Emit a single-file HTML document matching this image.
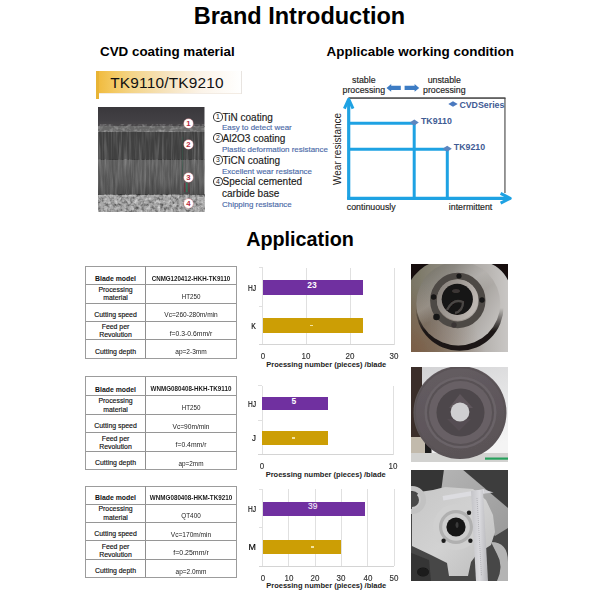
<!DOCTYPE html>
<html><head><meta charset="utf-8"><style>
html,body{margin:0;padding:0;background:#fff;width:600px;height:600px;overflow:hidden}
body{position:relative;font-family:'Liberation Sans', sans-serif}
.t{position:absolute;white-space:nowrap;font-family:'Liberation Sans', sans-serif}
</style></head><body>
<div class="t" style="left:149.50px;width:300px;text-align:center;top:5.33px;font-size:23.5px;line-height:23.5px;font-weight:bold;color:#000;">Brand Introduction</div>
<div class="t" style="left:100.00px;top:44.91px;font-size:13.4px;line-height:13.4px;font-weight:bold;color:#000;">CVD coating material</div>
<div class="t" style="left:326.60px;top:45.07px;font-size:13.45px;line-height:13.45px;font-weight:bold;color:#000;">Applicable working condition</div>
<div style="position:absolute;left:96px;top:70.5px;width:146px;height:23.8px;background:linear-gradient(90deg,#f0b93a 0px,#f3c659 14px,#f4d487 35px,#f6e3bd 70px,#fbf3e8 105px,#fefcf9 135px,#fff 146px);box-shadow:inset -1px 0 0 #e8e4e0, inset 0 -1px 0 #f3ece4;"></div>
<div style="position:absolute;left:96px;top:70.5px;width:3px;height:28px;background:#e8b435;"></div>
<div class="t" style="left:110.20px;top:75.31px;font-size:15.4px;line-height:15.4px;font-weight:normal;color:#111;letter-spacing:0.2px;">TK9110/TK9210</div>
<svg style="position:absolute;left:98px;top:107px" width="106.8" height="104.7" viewBox="0 0 106.8 104.7" preserveAspectRatio="none">
<defs>
<filter id="vs" x="0" y="0" width="100%" height="100%"><feTurbulence type="fractalNoise" baseFrequency="0.45 0.03" numOctaves="2" seed="3"/><feColorMatrix type="matrix" values="0 0 0 0 1  0 0 0 0 1  0 0 0 0 1  1.3 0 0 0 -0.55"/></filter>
<filter id="vs2" x="0" y="0" width="100%" height="100%"><feTurbulence type="fractalNoise" baseFrequency="0.5 0.05" numOctaves="2" seed="7"/><feColorMatrix type="matrix" values="0 0 0 0 0  0 0 0 0 0  0 0 0 0 0  1.2 0 0 0 -0.45"/></filter>
<filter id="sp" x="0" y="0" width="100%" height="100%"><feTurbulence type="fractalNoise" baseFrequency="0.32" numOctaves="2" seed="5"/><feColorMatrix type="matrix" values="0 0 0 0 0  0 0 0 0 0  0 0 0 0 0  1.8 0 0 0 -0.75"/><feGaussianBlur stdDeviation="0.4"/></filter><filter id="sp2" x="0" y="0" width="100%" height="100%"><feTurbulence type="fractalNoise" baseFrequency="0.3" numOctaves="2" seed="9"/><feColorMatrix type="matrix" values="0 0 0 0 1  0 0 0 0 1  0 0 0 0 1  1.8 0 0 0 -0.8"/><feGaussianBlur stdDeviation="0.4"/></filter>
<filter id="bump" x="0" y="0" width="100%" height="100%"><feTurbulence type="fractalNoise" baseFrequency="0.25 0.3" numOctaves="2" seed="11"/><feColorMatrix type="matrix" values="0 0 0 0 1  0 0 0 0 1  0 0 0 0 1  1.2 0 0 0 -0.5"/></filter>
<linearGradient id="semtop" x1="0" y1="0" x2="0" y2="1"><stop offset="0" stop-color="#3a383c"/><stop offset="0.7" stop-color="#424044"/><stop offset="1" stop-color="#4c4a4c"/></linearGradient>
<linearGradient id="seml3" x1="0" y1="0" x2="0" y2="1"><stop offset="0" stop-color="#666"/><stop offset="0.6" stop-color="#5e5e5e"/><stop offset="1" stop-color="#4e4e4e"/></linearGradient>
</defs>
<rect x="0" y="0" width="106.5" height="20" fill="url(#semtop)"/>
<rect x="0" y="19" width="106.5" height="6" fill="#686868"/>
<rect x="0" y="18" width="106.5" height="8" filter="url(#bump)" opacity="0.6"/>
<rect x="0" y="25" width="106.5" height="28" fill="#404040"/>
<rect x="0" y="25" width="106.5" height="28" filter="url(#vs)" opacity="0.35"/>
<rect x="0" y="53" width="106.5" height="35" fill="url(#seml3)"/>
<rect x="0" y="53" width="106.5" height="35" filter="url(#vs)" opacity="0.3"/>
<rect x="0" y="53" width="106.5" height="35" filter="url(#vs2)" opacity="0.35"/>
<rect x="0" y="88" width="106.8" height="17" fill="#a8a8a8"/>
<rect x="0" y="88" width="106.8" height="17" filter="url(#sp)" opacity="0.65"/>
<rect x="0" y="88" width="106.8" height="17" filter="url(#sp2)" opacity="0.65"/>
<rect x="88" y="76" width="1.6" height="9" fill="#2e7a5a" opacity="0.8"/><rect x="86" y="76" width="1.2" height="9" fill="#7a2a3a" opacity="0.7"/><rect x="90.3" y="76" width="1.2" height="9" fill="#7a2a3a" opacity="0.7"/><rect x="84" y="30" width="1" height="40" fill="#2e6a50" opacity="0.35"/>
</svg>
<div style="position:absolute;left:183.8px;top:119.1px;width:9px;height:9px;border-radius:50%;background:#fff;color:#b8283a;font:bold 7.8px/9px 'Liberation Sans', sans-serif;text-align:center;box-shadow:0 0 0 0.5px #e8a0a8">1</div>
<div style="position:absolute;left:183.8px;top:140.2px;width:9px;height:9px;border-radius:50%;background:#fff;color:#b8283a;font:bold 7.8px/9px 'Liberation Sans', sans-serif;text-align:center;box-shadow:0 0 0 0.5px #e8a0a8">2</div>
<div style="position:absolute;left:183.8px;top:172.6px;width:9px;height:9px;border-radius:50%;background:#fff;color:#b8283a;font:bold 7.8px/9px 'Liberation Sans', sans-serif;text-align:center;box-shadow:0 0 0 0.5px #e8a0a8">3</div>
<div style="position:absolute;left:183.8px;top:199.1px;width:9px;height:9px;border-radius:50%;background:#fff;color:#b8283a;font:bold 7.8px/9px 'Liberation Sans', sans-serif;text-align:center;box-shadow:0 0 0 0.5px #e8a0a8">4</div>
<div style="position:absolute;box-sizing:border-box;left:213.2px;top:112.3px;width:9.4px;height:9.6px;border:0.85px solid #333;border-radius:50%;font:6.8px/7.9px 'Liberation Sans', sans-serif;text-align:center;color:#222;font-weight:normal">1</div>
<div class="t" style="left:222.60px;top:112.80px;font-size:10.0px;line-height:10.0px;font-weight:normal;color:#1a1a1a;-webkit-text-stroke:0.15px #1a1a1a;">TiN coating</div>
<div style="position:absolute;box-sizing:border-box;left:213.2px;top:133.3px;width:9.4px;height:9.6px;border:0.85px solid #333;border-radius:50%;font:6.8px/7.9px 'Liberation Sans', sans-serif;text-align:center;color:#222;font-weight:normal">2</div>
<div class="t" style="left:222.60px;top:133.80px;font-size:10.0px;line-height:10.0px;font-weight:normal;color:#1a1a1a;-webkit-text-stroke:0.15px #1a1a1a;">Al2O3 coating</div>
<div style="position:absolute;box-sizing:border-box;left:213.2px;top:155.1px;width:9.4px;height:9.6px;border:0.85px solid #333;border-radius:50%;font:6.8px/7.9px 'Liberation Sans', sans-serif;text-align:center;color:#222;font-weight:normal">3</div>
<div class="t" style="left:222.60px;top:155.60px;font-size:10.0px;line-height:10.0px;font-weight:normal;color:#1a1a1a;-webkit-text-stroke:0.15px #1a1a1a;">TiCN coating</div>
<div style="position:absolute;box-sizing:border-box;left:213.2px;top:176.8px;width:9.4px;height:9.6px;border:0.85px solid #333;border-radius:50%;font:6.8px/7.9px 'Liberation Sans', sans-serif;text-align:center;color:#222;font-weight:normal">4</div>
<div class="t" style="left:222.60px;top:177.30px;font-size:10.0px;line-height:10.0px;font-weight:normal;color:#1a1a1a;-webkit-text-stroke:0.15px #1a1a1a;">Special cemented</div>
<div class="t" style="left:222.00px;top:188.70px;font-size:10.0px;line-height:10.0px;font-weight:normal;color:#1a1a1a;-webkit-text-stroke:0.15px #1a1a1a;">carbide base</div>
<div class="t" style="left:222.00px;top:124.14px;font-size:7.95px;line-height:7.95px;font-weight:normal;color:#4a6aa8;-webkit-text-stroke:0.15px #4a6aa8;">Easy to detect wear</div>
<div class="t" style="left:222.00px;top:145.74px;font-size:7.95px;line-height:7.95px;font-weight:normal;color:#4a6aa8;-webkit-text-stroke:0.15px #4a6aa8;">Plastic deformation resistance</div>
<div class="t" style="left:222.00px;top:167.64px;font-size:7.95px;line-height:7.95px;font-weight:normal;color:#4a6aa8;-webkit-text-stroke:0.15px #4a6aa8;">Excellent wear resistance</div>
<div class="t" style="left:222.00px;top:200.64px;font-size:7.95px;line-height:7.95px;font-weight:normal;color:#4a6aa8;-webkit-text-stroke:0.15px #4a6aa8;">Chipping resistance</div>
<div class="t" style="left:213.80px;width:300px;text-align:center;top:75.82px;font-size:8.8px;line-height:8.8px;font-weight:normal;color:#222;-webkit-text-stroke:0.15px #222;">stable</div>
<div class="t" style="left:213.80px;width:300px;text-align:center;top:85.82px;font-size:8.8px;line-height:8.8px;font-weight:normal;color:#222;-webkit-text-stroke:0.15px #222;">processing</div>
<div class="t" style="left:294.30px;width:300px;text-align:center;top:75.82px;font-size:8.8px;line-height:8.8px;font-weight:normal;color:#222;-webkit-text-stroke:0.15px #222;">unstable</div>
<div class="t" style="left:294.30px;width:300px;text-align:center;top:85.82px;font-size:8.8px;line-height:8.8px;font-weight:normal;color:#222;-webkit-text-stroke:0.15px #222;">processing</div>
<svg style="position:absolute;left:0;top:0" width="600" height="600">
<polygon points="386.5,87.9 391.2,84 391.2,85.8 400.8,85.8 400.8,90.1 391.2,90.1 391.2,91.8" fill="#3d7cc4"/>
<polygon points="419.2,87.9 414.6,84 414.6,85.8 404.6,85.8 404.6,90.1 414.6,90.1 414.6,91.8" fill="#3d7cc4"/>
<rect x="348.5" y="97.4" width="157" height="1.3" fill="#222"/>
<rect x="504.4" y="98" width="1.1" height="95" fill="#444"/>
<line x1="348.7" y1="199" x2="348.7" y2="100" stroke="#1ea2e3" stroke-width="3.2"/>
<polyline points="344.4,108.6 348.7,99.2 353,108.6" fill="none" stroke="#1ea2e3" stroke-width="3" stroke-linejoin="round"/>
<line x1="347.1" y1="198.3" x2="509" y2="198.3" stroke="#1ea2e3" stroke-width="3.2"/>
<polyline points="500.6,193.4 510.2,198.3 500.6,203.2" fill="none" stroke="#1ea2e3" stroke-width="3" stroke-linejoin="round"/>
<line x1="348.7" y1="123.3" x2="414.2" y2="123.3" stroke="#1ea2e3" stroke-width="3"/>
<line x1="414.2" y1="123.3" x2="414.2" y2="198" stroke="#1ea2e3" stroke-width="3"/>
<line x1="348.7" y1="149.2" x2="447.3" y2="149.2" stroke="#1ea2e3" stroke-width="3"/>
<line x1="447.3" y1="149.2" x2="447.3" y2="198" stroke="#1ea2e3" stroke-width="3"/>
<polygon points="409.8,122.6 414.3,119.6 418.8,122.6 414.3,125.6" fill="#5b86c0"/>
<polygon points="442.6,148.8 447.2,145.8 451.8,148.8 447.2,151.8" fill="#5b86c0"/>
<polygon points="448.3,104 453,101.2 457.7,104 453,106.8" fill="#4a79bf"/>
</svg>
<div class="t" style="left:421.00px;top:116.92px;font-size:8.8px;line-height:8.8px;font-weight:bold;color:#3f5b94;">TK9110</div>
<div class="t" style="left:453.80px;top:142.52px;font-size:8.8px;line-height:8.8px;font-weight:bold;color:#3f5b94;">TK9210</div>
<div class="t" style="left:459.40px;top:100.82px;font-size:8.8px;line-height:8.8px;font-weight:bold;color:#3f5b94;">CVDSeries</div>
<div class="t" style="left:346.80px;top:202.72px;font-size:8.8px;line-height:8.8px;font-weight:normal;color:#222;-webkit-text-stroke:0.15px #222;">continuously</div>
<div class="t" style="left:448.80px;top:203.02px;font-size:8.8px;line-height:8.8px;font-weight:normal;color:#222;-webkit-text-stroke:0.15px #222;">intermittent</div>
<div class="t" style="left:332.70px;top:185.2px;font-size:10.0px;line-height:10.0px;color:#222;transform-origin:0 0;transform:rotate(-90deg);white-space:nowrap">Wear resistance</div>
<div class="t" style="left:150.00px;width:300px;text-align:center;top:230.47px;font-size:19.8px;line-height:19.8px;font-weight:bold;color:#000;">Application</div>
<div style="position:absolute;box-sizing:border-box;left:85.3px;top:265.70px;width:151.6px;height:93.20px;border:1.2px solid #9c9c9c"></div>
<div style="position:absolute;left:144.5px;top:266px;width:1px;height:92.30000000000001px;background:#8e8e8e"></div>
<div style="position:absolute;left:86px;top:283.9px;width:150.3px;height:1px;background:#969696"></div>
<div style="position:absolute;left:86px;top:302.5px;width:150.3px;height:1px;background:#969696"></div>
<div style="position:absolute;left:86px;top:320.5px;width:150.3px;height:1px;background:#969696"></div>
<div style="position:absolute;left:86px;top:338.8px;width:150.3px;height:1px;background:#969696"></div>
<div class="t" style="left:-34.50px;width:300px;text-align:center;top:275.63px;font-size:6.9px;line-height:6.9px;font-weight:bold;color:#111;">Blade model</div>
<div class="t" style="left:-34.50px;width:300px;text-align:center;top:286.73px;font-size:6.9px;line-height:6.9px;font-weight:normal;color:#111;-webkit-text-stroke:0.15px #111;">Processing</div>
<div class="t" style="left:-34.50px;width:300px;text-align:center;top:295.44px;font-size:6.9px;line-height:6.9px;font-weight:normal;color:#111;-webkit-text-stroke:0.15px #111;">material</div>
<div class="t" style="left:-34.50px;width:300px;text-align:center;top:311.74px;font-size:6.9px;line-height:6.9px;font-weight:normal;color:#111;-webkit-text-stroke:0.15px #111;">Cutting speed</div>
<div class="t" style="left:-34.50px;width:300px;text-align:center;top:324.44px;font-size:6.9px;line-height:6.9px;font-weight:normal;color:#111;-webkit-text-stroke:0.15px #111;">Feed per</div>
<div class="t" style="left:-34.50px;width:300px;text-align:center;top:332.33px;font-size:6.9px;line-height:6.9px;font-weight:normal;color:#111;-webkit-text-stroke:0.15px #111;">Revolution</div>
<div class="t" style="left:-34.50px;width:300px;text-align:center;top:349.13px;font-size:6.9px;line-height:6.9px;font-weight:normal;color:#111;-webkit-text-stroke:0.15px #111;">Cutting depth</div>
<div class="t" style="left:40.65px;width:300px;text-align:center;top:274.85px;font-size:7.0px;line-height:7.0px;font-weight:bold;color:#1a1a1a;transform:scaleX(0.882);transform-origin:150px 0;">CNMG120412-HKH-TK9110</div>
<div class="t" style="left:40.65px;width:300px;text-align:center;top:292.85px;font-size:7.0px;line-height:7.0px;font-weight:normal;color:#222;transform:scaleX(0.890);transform-origin:150px 0;">HT250</div>
<div class="t" style="left:40.65px;width:300px;text-align:center;top:311.35px;font-size:7.0px;line-height:7.0px;font-weight:normal;color:#222;transform:scaleX(0.938);transform-origin:150px 0;">Vc=260-280m/min</div>
<div class="t" style="left:40.65px;width:300px;text-align:center;top:329.65px;font-size:7.0px;line-height:7.0px;font-weight:normal;color:#222;transform:scaleX(0.973);transform-origin:150px 0;">f=0.3-0.6mm/r</div>
<div class="t" style="left:40.65px;width:300px;text-align:center;top:347.95px;font-size:7.0px;line-height:7.0px;font-weight:normal;color:#222;transform:scaleX(0.936);transform-origin:150px 0;">ap=2-3mm</div>
<div style="position:absolute;box-sizing:border-box;left:85.3px;top:376.40px;width:151.6px;height:93.20px;border:1.2px solid #9c9c9c"></div>
<div style="position:absolute;left:144.5px;top:376.7px;width:1px;height:92.30000000000001px;background:#8e8e8e"></div>
<div style="position:absolute;left:86px;top:394.8px;width:150.3px;height:1px;background:#969696"></div>
<div style="position:absolute;left:86px;top:413.7px;width:150.3px;height:1px;background:#969696"></div>
<div style="position:absolute;left:86px;top:431.9px;width:150.3px;height:1px;background:#969696"></div>
<div style="position:absolute;left:86px;top:450.5px;width:150.3px;height:1px;background:#969696"></div>
<div class="t" style="left:-34.50px;width:300px;text-align:center;top:386.54px;font-size:6.9px;line-height:6.9px;font-weight:bold;color:#111;">Blade model</div>
<div class="t" style="left:-34.50px;width:300px;text-align:center;top:397.63px;font-size:6.9px;line-height:6.9px;font-weight:normal;color:#111;-webkit-text-stroke:0.15px #111;">Processing</div>
<div class="t" style="left:-34.50px;width:300px;text-align:center;top:406.63px;font-size:6.9px;line-height:6.9px;font-weight:normal;color:#111;-webkit-text-stroke:0.15px #111;">material</div>
<div class="t" style="left:-34.50px;width:300px;text-align:center;top:423.13px;font-size:6.9px;line-height:6.9px;font-weight:normal;color:#111;-webkit-text-stroke:0.15px #111;">Cutting speed</div>
<div class="t" style="left:-34.50px;width:300px;text-align:center;top:435.83px;font-size:6.9px;line-height:6.9px;font-weight:normal;color:#111;-webkit-text-stroke:0.15px #111;">Feed per</div>
<div class="t" style="left:-34.50px;width:300px;text-align:center;top:444.03px;font-size:6.9px;line-height:6.9px;font-weight:normal;color:#111;-webkit-text-stroke:0.15px #111;">Revolution</div>
<div class="t" style="left:-34.50px;width:300px;text-align:center;top:459.83px;font-size:6.9px;line-height:6.9px;font-weight:normal;color:#111;-webkit-text-stroke:0.15px #111;">Cutting depth</div>
<div class="t" style="left:40.65px;width:300px;text-align:center;top:385.35px;font-size:7.0px;line-height:7.0px;font-weight:bold;color:#1a1a1a;transform:scaleX(0.891);transform-origin:150px 0;">WNMG080408-HKH-TK9110</div>
<div class="t" style="left:40.65px;width:300px;text-align:center;top:403.75px;font-size:7.0px;line-height:7.0px;font-weight:normal;color:#222;transform:scaleX(0.890);transform-origin:150px 0;">HT250</div>
<div class="t" style="left:40.65px;width:300px;text-align:center;top:422.65px;font-size:7.0px;line-height:7.0px;font-weight:normal;color:#222;transform:scaleX(0.946);transform-origin:150px 0;">Vc=90m/min</div>
<div class="t" style="left:40.65px;width:300px;text-align:center;top:441.05px;font-size:7.0px;line-height:7.0px;font-weight:normal;color:#222;transform:scaleX(0.974);transform-origin:150px 0;">f=0.4mm/r</div>
<div class="t" style="left:40.65px;width:300px;text-align:center;top:459.75px;font-size:7.0px;line-height:7.0px;font-weight:normal;color:#222;transform:scaleX(0.911);transform-origin:150px 0;">ap=2mm</div>
<div style="position:absolute;box-sizing:border-box;left:85.3px;top:485.50px;width:151.6px;height:92.40px;border:1.2px solid #9c9c9c"></div>
<div style="position:absolute;left:144.5px;top:485.8px;width:1px;height:91.49999999999994px;background:#8e8e8e"></div>
<div style="position:absolute;left:86px;top:503.5px;width:150.3px;height:1px;background:#969696"></div>
<div style="position:absolute;left:86px;top:521.8px;width:150.3px;height:1px;background:#969696"></div>
<div style="position:absolute;left:86px;top:539.9px;width:150.3px;height:1px;background:#969696"></div>
<div style="position:absolute;left:86px;top:558.8px;width:150.3px;height:1px;background:#969696"></div>
<div class="t" style="left:-34.50px;width:300px;text-align:center;top:495.24px;font-size:6.9px;line-height:6.9px;font-weight:bold;color:#111;">Blade model</div>
<div class="t" style="left:-34.50px;width:300px;text-align:center;top:506.34px;font-size:6.9px;line-height:6.9px;font-weight:normal;color:#111;-webkit-text-stroke:0.15px #111;">Processing</div>
<div class="t" style="left:-34.50px;width:300px;text-align:center;top:514.73px;font-size:6.9px;line-height:6.9px;font-weight:normal;color:#111;-webkit-text-stroke:0.15px #111;">material</div>
<div class="t" style="left:-34.50px;width:300px;text-align:center;top:531.13px;font-size:6.9px;line-height:6.9px;font-weight:normal;color:#111;-webkit-text-stroke:0.15px #111;">Cutting speed</div>
<div class="t" style="left:-34.50px;width:300px;text-align:center;top:543.83px;font-size:6.9px;line-height:6.9px;font-weight:normal;color:#111;-webkit-text-stroke:0.15px #111;">Feed per</div>
<div class="t" style="left:-34.50px;width:300px;text-align:center;top:552.33px;font-size:6.9px;line-height:6.9px;font-weight:normal;color:#111;-webkit-text-stroke:0.15px #111;">Revolution</div>
<div class="t" style="left:-34.50px;width:300px;text-align:center;top:568.13px;font-size:6.9px;line-height:6.9px;font-weight:normal;color:#111;-webkit-text-stroke:0.15px #111;">Cutting depth</div>
<div class="t" style="left:40.65px;width:300px;text-align:center;top:493.65px;font-size:7.0px;line-height:7.0px;font-weight:bold;color:#1a1a1a;transform:scaleX(0.897);transform-origin:150px 0;">WNMG080408-HKM-TK9210</div>
<div class="t" style="left:40.65px;width:300px;text-align:center;top:512.35px;font-size:7.0px;line-height:7.0px;font-weight:normal;color:#222;transform:scaleX(0.906);transform-origin:150px 0;">QT400</div>
<div class="t" style="left:40.65px;width:300px;text-align:center;top:530.65px;font-size:7.0px;line-height:7.0px;font-weight:normal;color:#222;transform:scaleX(0.937);transform-origin:150px 0;">Vc=170m/min</div>
<div class="t" style="left:40.65px;width:300px;text-align:center;top:549.15px;font-size:7.0px;line-height:7.0px;font-weight:normal;color:#222;transform:scaleX(0.997);transform-origin:150px 0;">f=0.25mm/r</div>
<div class="t" style="left:40.65px;width:300px;text-align:center;top:567.55px;font-size:7.0px;line-height:7.0px;font-weight:normal;color:#222;transform:scaleX(0.929);transform-origin:150px 0;">ap=2.0mm</div>
<div style="position:absolute;left:262.00px;top:267.5px;width:1px;height:77.0px;background:#e0e0e0"></div>
<div class="t" style="left:112.50px;width:300px;text-align:center;top:352.16px;font-size:8.4px;line-height:8.4px;font-weight:normal;color:#333;transform:scaleX(0.950);transform-origin:150px 0;-webkit-text-stroke:0.15px #333;">0</div>
<div style="position:absolute;left:305.85px;top:267.5px;width:1px;height:77.0px;background:#e0e0e0"></div>
<div class="t" style="left:156.35px;width:300px;text-align:center;top:352.16px;font-size:8.4px;line-height:8.4px;font-weight:normal;color:#333;transform:scaleX(0.950);transform-origin:150px 0;-webkit-text-stroke:0.15px #333;">10</div>
<div style="position:absolute;left:349.70px;top:267.5px;width:1px;height:77.0px;background:#e0e0e0"></div>
<div class="t" style="left:200.20px;width:300px;text-align:center;top:352.16px;font-size:8.4px;line-height:8.4px;font-weight:normal;color:#333;transform:scaleX(0.950);transform-origin:150px 0;-webkit-text-stroke:0.15px #333;">20</div>
<div style="position:absolute;left:393.55px;top:267.5px;width:1px;height:77.0px;background:#e0e0e0"></div>
<div class="t" style="left:244.05px;width:300px;text-align:center;top:352.16px;font-size:8.4px;line-height:8.4px;font-weight:normal;color:#333;transform:scaleX(0.950);transform-origin:150px 0;-webkit-text-stroke:0.15px #333;">30</div>
<div style="position:absolute;left:258.50px;top:344.0px;width:135.55px;height:1px;background:#d4d4d4"></div>
<div style="position:absolute;left:258.50px;top:267.00px;width:4px;height:1px;background:#e0e0e0"></div>
<div style="position:absolute;left:258.50px;top:306.00px;width:4px;height:1px;background:#e0e0e0"></div>
<div style="position:absolute;left:262.50px;top:280px;width:100.86px;height:14.8px;background:#7030a0"></div>
<div class="t" style="left:-43.70px;width:300px;text-align:right;top:283.61px;font-size:8.7px;line-height:8.7px;font-weight:normal;color:#000;transform:scaleX(0.760);transform-origin:300px 0;-webkit-text-stroke:0.15px #000;">HJ</div>
<div class="t" style="left:161.93px;width:300px;text-align:center;top:281.07px;font-size:8.5px;line-height:8.5px;font-weight:bold;color:#fff;">23</div>
<div style="position:absolute;left:262.50px;top:318.2px;width:100.86px;height:14.6px;background:#cc9e05"></div>
<div class="t" style="left:-43.70px;width:300px;text-align:right;top:321.71px;font-size:8.7px;line-height:8.7px;font-weight:normal;color:#000;transform:scaleX(0.800);transform-origin:300px 0;-webkit-text-stroke:0.15px #000;">K</div>
<div style="position:absolute;left:310.43px;top:324.50px;width:3px;height:1.6px;background:#f3e3a0"></div>
<div class="t" style="left:176.27px;width:300px;text-align:center;top:360.62px;font-size:7.5px;line-height:7.5px;font-weight:bold;color:#222;">Proessing number (pieces) /blade</div>
<div style="position:absolute;left:261.70px;top:385.8px;width:1px;height:68.89999999999998px;background:#e0e0e0"></div>
<div class="t" style="left:112.20px;width:300px;text-align:center;top:462.36px;font-size:8.4px;line-height:8.4px;font-weight:normal;color:#333;transform:scaleX(0.950);transform-origin:150px 0;-webkit-text-stroke:0.15px #333;">0</div>
<div style="position:absolute;left:392.70px;top:385.8px;width:1px;height:68.89999999999998px;background:#e0e0e0"></div>
<div class="t" style="left:243.20px;width:300px;text-align:center;top:462.36px;font-size:8.4px;line-height:8.4px;font-weight:normal;color:#333;transform:scaleX(0.950);transform-origin:150px 0;-webkit-text-stroke:0.15px #333;">10</div>
<div style="position:absolute;left:258.20px;top:454.2px;width:135.00px;height:1px;background:#d4d4d4"></div>
<div style="position:absolute;left:258.20px;top:385.30px;width:4px;height:1px;background:#e0e0e0"></div>
<div style="position:absolute;left:258.20px;top:420.30px;width:4px;height:1px;background:#e0e0e0"></div>
<div style="position:absolute;left:262.20px;top:396.8px;width:65.50px;height:13.4px;background:#7030a0"></div>
<div class="t" style="left:-44.00px;width:300px;text-align:right;top:399.71px;font-size:8.7px;line-height:8.7px;font-weight:normal;color:#000;transform:scaleX(0.760);transform-origin:300px 0;-webkit-text-stroke:0.15px #000;">HJ</div>
<div class="t" style="left:143.95px;width:300px;text-align:center;top:397.17px;font-size:8.5px;line-height:8.5px;font-weight:bold;color:#fff;">5</div>
<div style="position:absolute;left:262.20px;top:431.4px;width:65.50px;height:13.4px;background:#cc9e05"></div>
<div class="t" style="left:-44.00px;width:300px;text-align:right;top:434.31px;font-size:8.7px;line-height:8.7px;font-weight:normal;color:#000;transform:scaleX(0.900);transform-origin:300px 0;-webkit-text-stroke:0.15px #000;">J</div>
<div style="position:absolute;left:292.45px;top:437.10px;width:3px;height:1.6px;background:#f3e3a0"></div>
<div class="t" style="left:175.70px;width:300px;text-align:center;top:470.82px;font-size:7.5px;line-height:7.5px;font-weight:bold;color:#222;">Proessing number (pieces) /blade</div>
<div style="position:absolute;left:262.00px;top:489.2px;width:1px;height:77.09999999999997px;background:#e0e0e0"></div>
<div class="t" style="left:112.50px;width:300px;text-align:center;top:573.96px;font-size:8.4px;line-height:8.4px;font-weight:normal;color:#333;transform:scaleX(0.950);transform-origin:150px 0;-webkit-text-stroke:0.15px #333;">0</div>
<div style="position:absolute;left:288.30px;top:489.2px;width:1px;height:77.09999999999997px;background:#e0e0e0"></div>
<div class="t" style="left:138.80px;width:300px;text-align:center;top:573.96px;font-size:8.4px;line-height:8.4px;font-weight:normal;color:#333;transform:scaleX(0.950);transform-origin:150px 0;-webkit-text-stroke:0.15px #333;">10</div>
<div style="position:absolute;left:314.60px;top:489.2px;width:1px;height:77.09999999999997px;background:#e0e0e0"></div>
<div class="t" style="left:165.10px;width:300px;text-align:center;top:573.96px;font-size:8.4px;line-height:8.4px;font-weight:normal;color:#333;transform:scaleX(0.950);transform-origin:150px 0;-webkit-text-stroke:0.15px #333;">20</div>
<div style="position:absolute;left:340.90px;top:489.2px;width:1px;height:77.09999999999997px;background:#e0e0e0"></div>
<div class="t" style="left:191.40px;width:300px;text-align:center;top:573.96px;font-size:8.4px;line-height:8.4px;font-weight:normal;color:#333;transform:scaleX(0.950);transform-origin:150px 0;-webkit-text-stroke:0.15px #333;">30</div>
<div style="position:absolute;left:367.20px;top:489.2px;width:1px;height:77.09999999999997px;background:#e0e0e0"></div>
<div class="t" style="left:217.70px;width:300px;text-align:center;top:573.96px;font-size:8.4px;line-height:8.4px;font-weight:normal;color:#333;transform:scaleX(0.950);transform-origin:150px 0;-webkit-text-stroke:0.15px #333;">40</div>
<div style="position:absolute;left:393.50px;top:489.2px;width:1px;height:77.09999999999997px;background:#e0e0e0"></div>
<div class="t" style="left:244.00px;width:300px;text-align:center;top:573.96px;font-size:8.4px;line-height:8.4px;font-weight:normal;color:#333;transform:scaleX(0.950);transform-origin:150px 0;-webkit-text-stroke:0.15px #333;">50</div>
<div style="position:absolute;left:258.50px;top:565.8px;width:135.50px;height:1px;background:#d4d4d4"></div>
<div style="position:absolute;left:258.50px;top:488.70px;width:4px;height:1px;background:#e0e0e0"></div>
<div style="position:absolute;left:258.50px;top:527.40px;width:4px;height:1px;background:#e0e0e0"></div>
<div style="position:absolute;left:262.50px;top:501.5px;width:102.57px;height:14.2px;background:#7030a0"></div>
<div class="t" style="left:-43.70px;width:300px;text-align:right;top:504.81px;font-size:8.7px;line-height:8.7px;font-weight:normal;color:#000;transform:scaleX(0.760);transform-origin:300px 0;-webkit-text-stroke:0.15px #000;">HJ</div>
<div class="t" style="left:162.79px;width:300px;text-align:center;top:502.06px;font-size:8.4px;line-height:8.4px;font-weight:normal;color:#f4e8f8;-webkit-text-stroke:0.15px #f4e8f8;">39</div>
<div style="position:absolute;left:262.50px;top:540.1px;width:78.90px;height:14.2px;background:#cc9e05"></div>
<div class="t" style="left:-43.70px;width:300px;text-align:right;top:543.41px;font-size:8.7px;line-height:8.7px;font-weight:normal;color:#000;transform:scaleX(1.020);transform-origin:300px 0;-webkit-text-stroke:0.15px #000;">M</div>
<div style="position:absolute;left:311.29px;top:546.20px;width:3px;height:1.6px;background:#f3e3a0"></div>
<div class="t" style="left:176.25px;width:300px;text-align:center;top:582.42px;font-size:7.5px;line-height:7.5px;font-weight:bold;color:#222;">Proessing number (pieces) /blade</div>
<svg style="position:absolute;left:411px;top:264px" width="97.3" height="87.5" viewBox="0 0 97.3 87.5">
<defs>
<filter id="bl1"><feGaussianBlur stdDeviation="0.6"/></filter>
<linearGradient id="m1bg" x1="0" y1="0" x2="1" y2="0"><stop offset="0" stop-color="#787462"/><stop offset="0.3" stop-color="#8a867a"/><stop offset="0.65" stop-color="#aeaaa6"/><stop offset="1" stop-color="#cbc9c7"/></linearGradient><radialGradient id="m1br" cx="0" cy="1" r="0.75"><stop offset="0" stop-color="#7a5a42" stop-opacity="0.9"/><stop offset="1" stop-color="#7a5a42" stop-opacity="0"/></radialGradient>
<linearGradient id="m1" x1="0" y1="0.1" x2="1" y2="0.6"><stop offset="0" stop-color="#6c685a"/><stop offset="0.35" stop-color="#7c7870"/><stop offset="0.55" stop-color="#95918c"/><stop offset="1" stop-color="#c0bdba"/></linearGradient><linearGradient id="m1s" x1="0" y1="0" x2="0.6" y2="1"><stop offset="0" stop-color="#fff" stop-opacity="0"/><stop offset="0.45" stop-color="#fff" stop-opacity="0.22"/><stop offset="0.6" stop-color="#fff" stop-opacity="0"/></linearGradient>
<linearGradient id="m1i" x1="0" y1="0" x2="1" y2="0.4"><stop offset="0" stop-color="#827c76"/><stop offset="1" stop-color="#bcb6b1"/></linearGradient>
</defs>
<g filter="url(#bl1)">
<rect x="-2" y="-2" width="102" height="92" fill="url(#m1bg)"/><rect x="-2" y="-2" width="102" height="92" fill="url(#m1br)"/>
<linearGradient id="g1m" x1="0" y1="0" x2="0" y2="1"><stop offset="0.5" stop-color="#fff" stop-opacity="0"/><stop offset="0.75" stop-color="#fff" stop-opacity="1"/></linearGradient><mask id="c1l" maskContentUnits="userSpaceOnUse"><rect x="-5" y="-2" width="110" height="92" fill="url(#g1m)"/></mask><circle cx="48.6" cy="42.8" r="44" fill="#1c1816" mask="url(#c1l)"/>
<circle cx="47.3" cy="39.5" r="42" fill="url(#m1)"/><circle cx="47.3" cy="39.5" r="42" fill="url(#m1br)" opacity="0.6"/><circle cx="47.3" cy="39.5" r="42" fill="url(#m1s)"/>
<circle cx="46.8" cy="36.5" r="24.3" fill="none" stroke="#4e4945" stroke-width="6.8"/>
<circle cx="46.5" cy="35.8" r="20.6" fill="url(#m1i)"/>
<circle cx="48" cy="12" r="2.6" fill="#161414"/>
<circle cx="22.6" cy="33" r="2.7" fill="#161414"/>
<circle cx="71" cy="36" r="2.7" fill="#161414"/>
<circle cx="25.5" cy="53" r="3.3" fill="#161414"/>
<circle cx="43" cy="61" r="2.7" fill="#3a3634"/>
<circle cx="46.3" cy="35.3" r="15.6" fill="#141212"/>
<path d="M36,46 Q42,34 52,38 Q52,47 44,49" fill="none" stroke="#4a4644" stroke-width="2.4"/>
<ellipse cx="45" cy="27" rx="4" ry="2" fill="#3a3634"/>
<path d="M-2,-2 L22,-2 Q7,4 -2,19 Z" fill="#131111"/>
<path d="M76,-2 L99,-2 L99,21 Q93,4 76,-2 Z" fill="#131111"/>
</g>
</svg>
<svg style="position:absolute;left:411px;top:367px" width="97" height="95" viewBox="0 0 97 95">
<defs>
<filter id="bl2"><feGaussianBlur stdDeviation="0.55"/></filter>
<linearGradient id="bg2" x1="0" y1="0" x2="0.4" y2="1"><stop offset="0" stop-color="#d0d0d2"/><stop offset="1" stop-color="#f4f4f4"/></linearGradient>
<linearGradient id="d2" x1="0" y1="0" x2="0.3" y2="1"><stop offset="0" stop-color="#655d62"/><stop offset="1" stop-color="#5a5357"/></linearGradient>
</defs>
<g filter="url(#bl2)">
<rect x="-2" y="-2" width="101" height="99" fill="url(#bg2)"/>
<rect x="-2" y="-2" width="13" height="72" fill="#3a2f29"/>
<rect x="-2" y="70" width="19" height="18" fill="#c2baac"/>
<rect x="14" y="76" width="6.5" height="11" fill="#1e1a1a"/>
<rect x="-2" y="86" width="101" height="11" fill="#d2d2d0"/>
<circle cx="49" cy="45.5" r="46.5" fill="url(#d2)"/>
<circle cx="49" cy="45.5" r="45" fill="none" stroke="#5a5357" stroke-width="1.5"/>
<circle cx="49.5" cy="45.5" r="36" fill="#6a6367"/>
<circle cx="49.5" cy="45.5" r="33.5" fill="#585155"/>
<circle cx="49.5" cy="45.5" r="31.5" fill="#686165"/>
<circle cx="49.5" cy="45.5" r="24" fill="#4e474b"/>
<polygon points="49,27 62,41 38,41" fill="#5e575b"/>
<polygon points="36,52 48,64 60,52" fill="#554e52"/>
<circle cx="49" cy="45" r="9.4" fill="#cfcfd1"/>
<rect x="74" y="90.5" width="23" height="2.2" fill="#25a05c"/>
</g>
</svg>
<svg style="position:absolute;left:411px;top:470px" width="97" height="110.5" viewBox="0 0 97 110.5">
<defs>
<filter id="bl3"><feGaussianBlur stdDeviation="0.6"/></filter>
<linearGradient id="p3b" x1="0" y1="0" x2="1" y2="1"><stop offset="0" stop-color="#c6c6c6"/><stop offset="0.5" stop-color="#d2d2d2"/><stop offset="1" stop-color="#bcbcbc"/></linearGradient>
<linearGradient id="p3c" x1="0" y1="0" x2="1" y2="0"><stop offset="0" stop-color="#c4c4c8"/><stop offset="0.5" stop-color="#dadade"/><stop offset="1" stop-color="#b4b4b8"/></linearGradient>
<linearGradient id="p3p" x1="0" y1="0" x2="1" y2="1"><stop offset="0" stop-color="#b4b4b4"/><stop offset="1" stop-color="#9a9a9a"/></linearGradient>
</defs>
<g filter="url(#bl3)">
<rect x="-2" y="-2" width="101" height="115" fill="#464646"/>
<rect x="-2" y="-2" width="38" height="24" fill="#363636"/>
<rect x="50" y="-2" width="49" height="52" fill="#3e3e3e"/>
<polygon points="33,-1 51,-1 97,38 97,58 84,66 30,22" fill="url(#p3p)"/>
<polygon points="1,33 8,22 22,20 34,17 62,19 75,30 82,45 84,62 80,75 66,84 60,92 57,106 38,106 36,93 20,85 1,76" fill="url(#p3b)"/>
<circle cx="1" cy="30" r="11.5" fill="none" stroke="#c2c2c2" stroke-width="5"/>
<circle cx="1" cy="30" r="7" fill="#4a4a4a"/>
<circle cx="45" cy="57" r="23" fill="#d0d0d0"/>
<circle cx="45" cy="57" r="17" fill="#b0b0b0"/>
<circle cx="45" cy="57" r="13.8" fill="#cdcdcd"/>
<circle cx="45" cy="57" r="9.6" fill="#141414"/>
<ellipse cx="46" cy="55" rx="1.5" ry="3" fill="#3a3a3a"/>
<circle cx="58" cy="42.8" r="2.2" fill="#1e1e1e"/>
<circle cx="32.6" cy="70.8" r="2.2" fill="#1e1e1e"/>
<circle cx="59.4" cy="70.8" r="2.2" fill="#1e1e1e"/>
<polygon points="31.6,26 73.3,19 74,23.5 32.3,30.5" fill="#dcdce0"/>
<polygon points="73,19.5 82.5,22.5 74,23.5" fill="#d0d0d4"/>
<polygon points="60,21 72,20 77,111 65,111" fill="url(#p3c)"/>
<line x1="66" y1="28" x2="70.5" y2="106" stroke="#9a9aa0" stroke-width="0.6" stroke-dasharray="1 1"/>
<path d="M80,72 Q97,72 97,92 L97,111 L86,111 Q93,96 86,84 Z" fill="#b4b4b4"/>
<path d="M-2,82 L18,90 L20,111 L-2,111 Z" fill="#363636"/>
<ellipse cx="12" cy="102" rx="6" ry="4.5" fill="#1a1a1a"/>
</g>
</svg>
</body></html>
